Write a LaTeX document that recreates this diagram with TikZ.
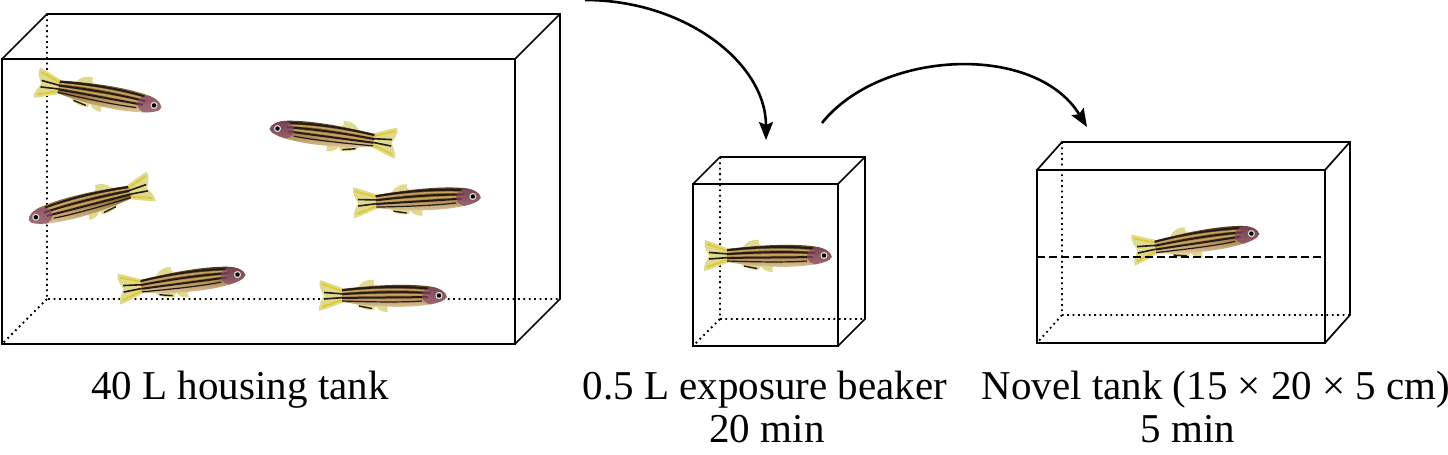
\documentclass[tikz,border=0pt]{standalone}
\usepackage{fontspec}
\setmainfont{Liberation Serif}
\usetikzlibrary{arrows.meta}
\definecolor{bodytop}{HTML}{4E3A1E}
\definecolor{bodymid}{HTML}{A88650}
\definecolor{bodybot}{HTML}{E4CBA0}
\definecolor{goldcol}{HTML}{C8A25A}
\definecolor{fincol}{HTML}{DEDB8E}
\definecolor{finyel}{HTML}{E2C82C}
\definecolor{stripecol}{HTML}{261B12}
\definecolor{headcol}{HTML}{86466A}
\newcommand\zfbody{(65,-1) .. controls (64,4) and (58,8) .. (48,9.5) .. controls (30,12) and (0,12) .. (-40,7) -- (-40,-6) .. controls (-10,-11) and (20,-12) .. (40,-9.5) .. controls (54,-8) and (63,-5) .. (65,-1) -- cycle}
\tikzset{
  front/.style={line width=1.4pt, line join=miter},
  back/.style={line width=0.85pt, line join=miter},
  hidden/.style={line width=0.9pt, dash pattern=on 0.9pt off 1.8pt},
  level/.style={line width=1pt, dash pattern=on 4pt off 2pt},
  flow/.style={line width=1.3pt, -{Stealth[length=9pt,width=7pt,inset=1.5pt]}},
  lbl/.style={font=\fontsize{20.5}{24}\selectfont, inner sep=0pt, anchor=base},
  stripe/.style={draw=stripecol, line width=1pt},
  zfish/.pic={
    % tail fin
    \fill[fincol] (-37,7) .. controls (-46,10) and (-55,14) .. (-62,16) .. controls (-64,10) and (-60,4) .. (-58,0) .. controls (-60,-4) and (-64,-10) .. (-63,-15) .. controls (-55,-13) and (-46,-9) .. (-37,-6) -- cycle;
    \draw[finyel, line width=0.9pt] (-40,5) -- (-60,12) (-40,-4) -- (-60,-11);
    \draw[stripecol, line width=0.8pt] (-38,2) -- (-58,3.5) (-38,-1.5) -- (-58,-3);
    % dorsal fin
    \fill[fincol] (-24,9) .. controls (-20,15) and (-14,17) .. (-8,16) .. controls (-9,13) and (-8,11) .. (-6,10.5) -- cycle;
    % anal fin
    \fill[fincol] (-27,-7) .. controls (-24,-12) and (-16,-14) .. (-8,-14) .. controls (-8,-11) and (-6,-10) .. (-4,-9.5) -- cycle;
    \draw[stripecol, line width=0.7pt] (-23,-10) -- (-10,-12.5);
    % pelvic fin
    \fill[fincol] (-6,-10) .. controls (-4,-15) and (2,-16) .. (6,-16) .. controls (5,-13) and (5,-12) .. (6,-10) -- cycle;
    % body
    \shade[top color=bodytop, bottom color=bodybot, middle color=bodymid] \zfbody;
    \begin{scope}
      \clip \zfbody;
      \draw[goldcol, line width=0.8pt] (-45,3.3) .. controls (-10,7) and (20,7.5) .. (47,5) (-45,-0.3) .. controls (-10,1.2) and (20,1.5) .. (47,1);
      \draw[stripe] (-45,5.2) .. controls (-10,9.5) and (20,10) .. (46,7.5);
      \draw[stripe] (-45,1.5) .. controls (-10,4) and (20,4.5) .. (48,3);
      \draw[stripe] (-45,-2) .. controls (-10,-1.5) and (20,-1.5) .. (46,-1);
      \draw[stripe, line width=0.6pt] (-40,-5) .. controls (-10,-6) and (20,-6.5) .. (40,-5);
      \fill[headcol, opacity=0.7] (52,0) ellipse [x radius=12, y radius=9];
    \end{scope}
    % eye
    \fill[white!85!black] (57,0.5) circle (3.6);
    \fill[black] (57,0.5) circle (2.2);
  }
}
\begin{document}
\begin{tikzpicture}[x=0.5pt,y=-0.5pt]
\useasboundingbox (0,0) rectangle (1448,455);
% ---- housing tank ----
\draw[hidden] (47,14) -- (47,299) -- (560,299) (47,299) -- (2,344);
\draw[back] (2,59) -- (47,14) -- (560,14) -- (560,299) -- (515,344) (515,59) -- (560,14);
\draw[front] (2,59) rectangle (515,344);
% ---- exposure beaker ----
\draw[hidden] (720,157) -- (720,319) -- (865,319) (720,319) -- (693,346);
\draw[back] (693,184) -- (720,157) -- (865,157) -- (865,319) -- (838,346) (838,184) -- (865,157);
\draw[front] (693,184) rectangle (838,346);
% ---- novel tank ----
\draw[hidden] (1062,142) -- (1062,315) -- (1350,315) (1062,315) -- (1037,343);
\draw[back] (1037,170) -- (1062,142) -- (1350,142) -- (1350,315) -- (1325,343) (1325,170) -- (1350,142);
\draw[front] (1037,170) rectangle (1325,343);
% ---- fish ----
\path (98,95) pic[x=0.5pt,y=0.5pt,rotate=-11] {zfish};
\path (334,136) pic[x=0.5pt,y=0.5pt,rotate=-7,xscale=-1] {zfish};
\path (91,203) pic[x=0.5pt,y=0.5pt,rotate=15,xscale=-1] {zfish};
\path (416,200) pic[x=0.5pt,y=0.5pt,rotate=3] {zfish};
\path (181,282) pic[x=0.5pt,y=0.5pt,rotate=7] {zfish};
\path (382,296) pic[x=0.5pt,y=0.5pt,rotate=0] {zfish};
\path (767,256) pic[x=0.5pt,y=0.5pt,rotate=0] {zfish};
\path (1195,242) pic[x=0.5pt,y=0.5pt,rotate=8] {zfish};
% ---- midline of novel tank ----
\coordinate (ml) at (1037,257);
\coordinate (mr) at (1325,257);
\draw[level] (ml) -- (mr);
% ---- arrows ----
\coordinate (a1s) at (585,0);
\coordinate (a1e) at (766,140);
\coordinate (a2s) at (822,123);
\coordinate (a2e) at (1087,127);
\draw[flow] (a1s) .. controls (685,0) and (766,63) .. (a1e);
\draw[flow] (a2s) .. controls (880,50) and (1035,42) .. (a2e);
% ---- labels ----
\node[lbl] (l1) at (240,399) {40 L housing tank};
\node[lbl] (l2) at (765,399) {0.5 L exposure beaker};
\node[lbl] (l2b) at (767,442) {20 min};
\node[lbl] (l3) at (1216,399) {Novel tank (15 × 20 × 5 cm)};
\node[lbl] (l3b) at (1188,442) {5 min};
\end{tikzpicture}
\end{document}
